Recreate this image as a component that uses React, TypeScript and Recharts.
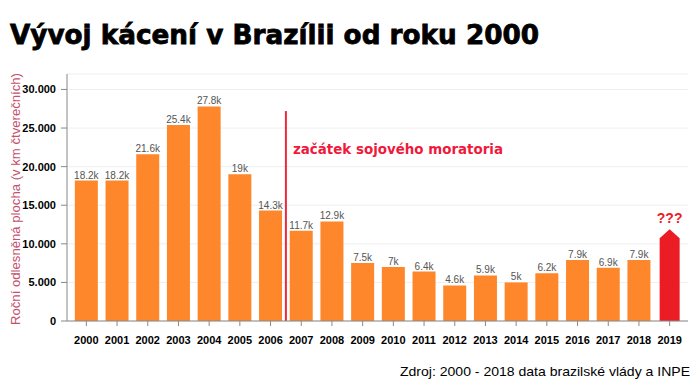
import React from 'react'
import { Bar, BarChart, CartesianGrid, LabelList, ReferenceLine, XAxis, YAxis } from 'recharts'

const years = ['2000', '2001', '2002', '2003', '2004', '2005', '2006', '2007', '2008', '2009', '2010', '2011', '2012', '2013', '2014', '2015', '2016', '2017', '2018', '2019']
// km2 per year, 2000 - 2018
const cleared = [18200, 18200, 21600, 25400, 27800, 19000, 14300, 11700, 12900, 7500, 7000, 6400, 4600, 5900, 5000, 6200, 7900, 6900, 7900]
// 2019 is unknown, drawn as arrow
const estimate2019 = 11900
const yTicks = [0, 5000, 10000, 15000, 20000, 25000, 30000]
const moratoriumYear = '2006'
const moratoriumTop = 27200

const data = years.map((year, i) => ({
  year,
  cleared: i < cleared.length ? cleared[i] : undefined,
  estimate: i === years.length - 1 ? estimate2019 : undefined,
}))

const narrow = "'Liberation Sans Narrow', 'Arial Narrow', 'Liberation Sans', Arial, sans-serif"
const arial = "'Liberation Sans', Arial, sans-serif"

const fmtK = (v: any) => {
  if (v == null || v === 0) return ''
  const k = Math.round(v / 100) / 10
  return (Number.isInteger(k) ? String(k) : k.toFixed(1)) + 'k'
}

const fmtThousands = (v: number) => (v === 0 ? '0' : `${v / 1000}.000`)

const ArrowBar = (props: any) => {
  const { x, y, width, height } = props
  if (!height || height <= 0) return null
  const l = x + 1.5
  const r = x + width - 1.5
  const mid = (l + r) / 2
  const shoulder = y + 9
  const bottom = y + height
  const pts = `${mid},${y} ${r},${shoulder} ${r},${bottom} ${l},${bottom} ${l},${shoulder}`
  return <polygon points={pts} fill="#ec1c24" />
}

export default function App() {
  return (
    <div style={{ position: 'absolute', left: 0, top: 0, width: 700, height: 384, background: '#fff' }}>
      <BarChart
        width={700}
        height={384}
        data={data}
        margin={{ top: 74, right: 12, bottom: 33, left: 0 }}
        barCategoryGap="12.5%"
      >
        <CartesianGrid vertical={false} stroke="#efefef" />
        <XAxis
          dataKey="year"
          height={30}
          padding={{ left: 4, right: 3 }}
          stroke="#888"
          tickSize={5}
          tickMargin={10}
          tick={{ fill: '#000', fontSize: 11, fontWeight: 700, fontFamily: narrow }}
          interval={0}
        />
        <YAxis
          width={67}
          domain={[0, 32000]}
          ticks={yTicks}
          stroke="#888"
          tickSize={6}
          tickMargin={5}
          tickFormatter={fmtThousands}
          tick={{ fill: '#000', fontSize: 11, fontWeight: 700, fontFamily: narrow }}
        />
        <ReferenceLine
          segment={[{ x: moratoriumYear, y: 0 }, { x: moratoriumYear, y: moratoriumTop }]}
          position="end"
          stroke="#f0283c"
          strokeWidth={2}
        />
        <Bar dataKey="cleared" stackId="a" fill="#fd872a" isAnimationActive={false}>
          <LabelList
            dataKey="cleared"
            position="top"
            offset={2}
            formatter={fmtK}
            style={{ fill: '#555', fontSize: 10, fontFamily: narrow }}
          />
        </Bar>
        <Bar dataKey="estimate" stackId="a" fill="#ec1c24" shape={<ArrowBar />} isAnimationActive={false}>
          <LabelList
            dataKey="estimate"
            position="top"
            offset={6}
            formatter={(v: any) => (v ? '???' : '')}
            style={{ fill: '#ec1c24', fontSize: 14, fontWeight: 900, fontFamily: arial }}
          />
        </Bar>
      </BarChart>
      <svg width={700} height={384} style={{ position: 'absolute', left: 0, top: 0, pointerEvents: 'none' }}>
        <text x={10} y={44} fontSize={27} fontWeight={900} fontFamily="'DejaVu Sans', sans-serif" fill="#000" stroke="#000" strokeWidth={0.8} textLength={529} lengthAdjust="spacingAndGlyphs">
          Vývoj kácení v Brazílii od roku 2000
        </text>
        <text x={293} y={154} fontSize={14} fontWeight={700} fontFamily="'DejaVu Sans', sans-serif" fill="#f0193c" textLength={210} lengthAdjust="spacingAndGlyphs">
          začátek sojového moratoria
        </text>
        <text
          x={0}
          y={0}
          transform="translate(20, 199) rotate(-90)"
          textAnchor="middle"
          fontSize={13}
          fontFamily={arial}
          fill="#c4506c"
          textLength={252}
          lengthAdjust="spacingAndGlyphs"
        >
          Roční odlesněná plocha (v km čtverečních)
        </text>
        <text x={400} y={376} fontSize={13} fontFamily={arial} fill="#000" textLength={290} lengthAdjust="spacingAndGlyphs">
          Zdroj: 2000 - 2018 data brazilské vlády a INPE
        </text>
      </svg>
    </div>
  )
}
